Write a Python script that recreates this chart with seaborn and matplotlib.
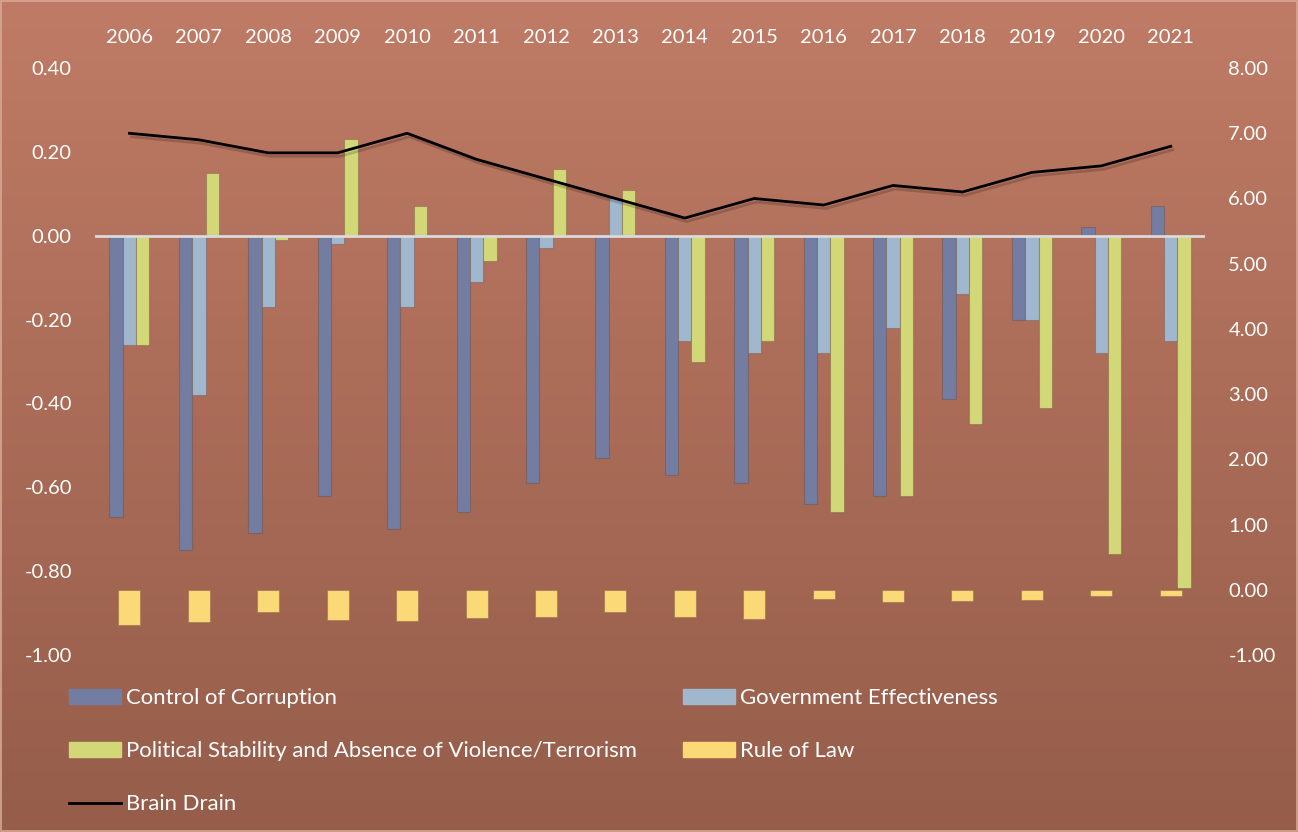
import matplotlib
matplotlib.use("Agg")
import matplotlib.pyplot as plt
import matplotlib.patheffects as pe
from matplotlib.colors import LinearSegmentedColormap
from matplotlib.lines import Line2D
from matplotlib.patches import Patch, Rectangle
from matplotlib.ticker import FormatStrFormatter
import numpy as np
import pandas as pd
import seaborn as sns

# data
years = [str(y) for y in range(2006, 2022)]
control_of_corruption = [-0.67, -0.75, -0.71, -0.62, -0.70, -0.66, -0.59, -0.53,
                         -0.57, -0.59, -0.64, -0.62, -0.39, -0.20, 0.02, 0.07]
government_effectiveness = [-0.26, -0.38, -0.17, -0.02, -0.17, -0.11, -0.03, 0.09,
                            -0.25, -0.28, -0.28, -0.22, -0.14, -0.20, -0.28, -0.25]
political_stability = [-0.26, 0.15, -0.01, 0.23, 0.07, -0.06, 0.16, 0.11,
                       -0.30, -0.25, -0.66, -0.62, -0.45, -0.41, -0.76, -0.84]
rule_of_law = [-0.54, -0.50, -0.34, -0.47, -0.48, -0.43, -0.41, -0.34,
               -0.41, -0.44, -0.14, -0.19, -0.17, -0.15, -0.10, -0.09]
brain_drain = [7.0, 6.9, 6.7, 6.7, 7.0, 6.6, 6.3, 6.0, 5.7, 6.0, 5.9, 6.2, 6.1, 6.4, 6.5, 6.8]

names = ["Control of Corruption", "Government Effectiveness",
         "Political Stability and Absence of Violence/Terrorism"]
colors = ["#737CA1", "#A0B7CE", "#D2D878"]
rol_color = "#FCD977"
white = "#FFFFFF"

plt.rcParams["font.family"] = ["Lato", "DejaVu Sans"]
plt.rcParams["font.size"] = 14.5

primary = pd.DataFrame({
    "year": years,
    names[0]: control_of_corruption,
    names[1]: government_effectiveness,
    names[2]: political_stability,
}).melt(id_vars="year", var_name="indicator", value_name="score")

fig = plt.figure(figsize=(12.98, 8.32), dpi=100)

# gradient background
bg = fig.add_axes([0, 0, 1, 1], zorder=-10)
cmap = LinearSegmentedColormap.from_list("bg", ["#BF7B65", "#955D4A"])
bg.imshow(np.linspace(0, 1, 256).reshape(-1, 1), aspect="auto", cmap=cmap,
          extent=[0, 1, 0, 1])
bg.add_patch(Rectangle((0.001, 0.001), 0.998, 0.998, fill=False,
                       edgecolor="#D8A894", lw=1.2, transform=bg.transAxes))
bg.axis("off")

ax = fig.add_axes([0.0730, 0.2127, 0.8557, 0.7055])
ax.set_facecolor("none")
sns.barplot(data=primary, x="year", y="score", hue="indicator", palette=colors,
            saturation=1, width=0.576, errorbar=None, legend=False,
            edgecolor=(0.35, 0.25, 0.2, 0.3), linewidth=0.8, ax=ax)
ax.axhline(0, color="#DADADA", lw=2, zorder=3)

ax2 = ax.twinx()
sns.barplot(x=years, y=rule_of_law, color=rol_color, saturation=1, width=0.317,
            errorbar=None, edgecolor=(0.6, 0.45, 0.3, 0.6), linewidth=0.8, ax=ax2)
sns.lineplot(x=np.arange(len(years)), y=brain_drain, color="black", lw=2, ax=ax2,
             path_effects=[pe.SimpleLineShadow(offset=(1.5, -2.5), alpha=0.18),
                           pe.Normal()])

ax.set_xlim(-0.5, len(years) - 0.5)
ax.set_ylim(-1.0, 0.4)
ax.set_yticks(np.round(np.linspace(-1.0, 0.4, 8), 2) + 0.0)
ax.yaxis.set_major_formatter(FormatStrFormatter("%.2f"))
ax2.set_ylim(-1, 8)
ax2.set_yticks(range(-1, 9))
ax2.yaxis.set_major_formatter(FormatStrFormatter("%.2f"))

ax.xaxis.tick_top()
ax.tick_params(axis="x", length=0, pad=16, labelcolor=white, labelsize=14.5)
ax.tick_params(axis="y", length=0, pad=16.5, labelcolor=white, labelsize=14.5)
ax2.tick_params(axis="y", length=0, pad=16.5, labelcolor=white, labelsize=14.5)
for a in (ax, ax2):
    a.set_xlabel("")
    a.set_ylabel("")
    for s in a.spines.values():
        s.set_visible(False)

# legend in two columns
left_handles = [Patch(color=colors[0]), Patch(color=colors[2]),
                Line2D([], [], color="black", lw=2)]
left_labels = [names[0], names[2], "Brain Drain"]
right_handles = [Patch(color=colors[1]), Patch(color=rol_color)]
right_labels = [names[1], "Rule of Law"]
common = dict(frameon=False, borderpad=0, borderaxespad=0, handlelength=2.35,
              handleheight=0.68, handletextpad=0.25, labelspacing=1.5,
              labelcolor=white, fontsize=15.9, loc="upper left")
fig.legend(left_handles, left_labels, bbox_to_anchor=(69 / 1298, 1 - 688 / 832),
           **common)
fig.legend(right_handles, right_labels, bbox_to_anchor=(683 / 1298, 1 - 688 / 832),
           **common)

fig.savefig("out.png", dpi=100)
